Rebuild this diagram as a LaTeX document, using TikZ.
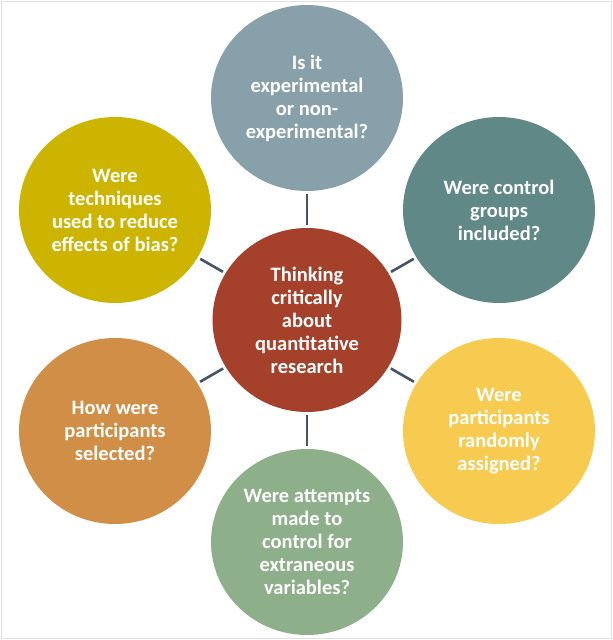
\documentclass[tikz,border=0pt]{standalone}
\usepackage{fontspec}
\setmainfont{Carlito}
\usepackage{xcolor}
\usetikzlibrary{shapes.geometric}

\definecolor{hubred}{HTML}{A5402A}
\definecolor{slateblue}{HTML}{87A0AA}
\definecolor{darkteal}{HTML}{5F8887}
\definecolor{olive}{HTML}{CCB400}
\definecolor{amber}{HTML}{D08E47}
\definecolor{sunny}{HTML}{F7CB50}
\definecolor{sage}{HTML}{8DAF8A}
\definecolor{linkgray}{HTML}{44546A}

\begin{document}
\begin{tikzpicture}[x=1pt,y=-1pt,
  every node/.style={font=\bfseries\fontsize{20.5}{23}\selectfont, text=white, align=center},
  bubble/.style={ellipse, minimum width=192pt, minimum height=186pt, inner sep=0pt, outer sep=0pt},
  link/.style={draw=linkgray, line width=2.6pt, shorten <=3pt, shorten >=3pt}]
\useasboundingbox (0,0) rectangle (613,640);
\draw[draw=black!12, line width=0.8pt] (1,1) rectangle (611,638);
% center and questions
\node[bubble, fill=hubred, minimum width=189pt, minimum height=184pt] (hub) at (307,320) {Thinking\\critically\\about\\quantitative\\research};
\node[bubble, fill=slateblue] (design) at (307,98) {Is it\\experimental\\or non-\\experimental?};
\node[bubble, fill=darkteal] (control) at (499,210) {Were control\\groups\\included?};
\node[bubble, fill=sunny] (assign) at (499,431) {Were\\participants\\randomly\\assigned?};
\node[bubble, fill=sage] (extra) at (307,542) {Were attempts\\made to\\control for\\extraneous\\variables?};
\node[bubble, fill=amber] (select) at (115,431) {How were\\participants\\selected?};
\node[bubble, fill=olive] (bias) at (115,210) {Were\\techniques\\used to reduce\\effects of bias?};
% connectors
\draw[link] (hub) -- (design);
\draw[link] (hub) -- (control);
\draw[link] (hub) -- (assign);
\draw[link] (hub) -- (extra);
\draw[link] (hub) -- (select);
\draw[link] (hub) -- (bias);
\end{tikzpicture}
\end{document}
